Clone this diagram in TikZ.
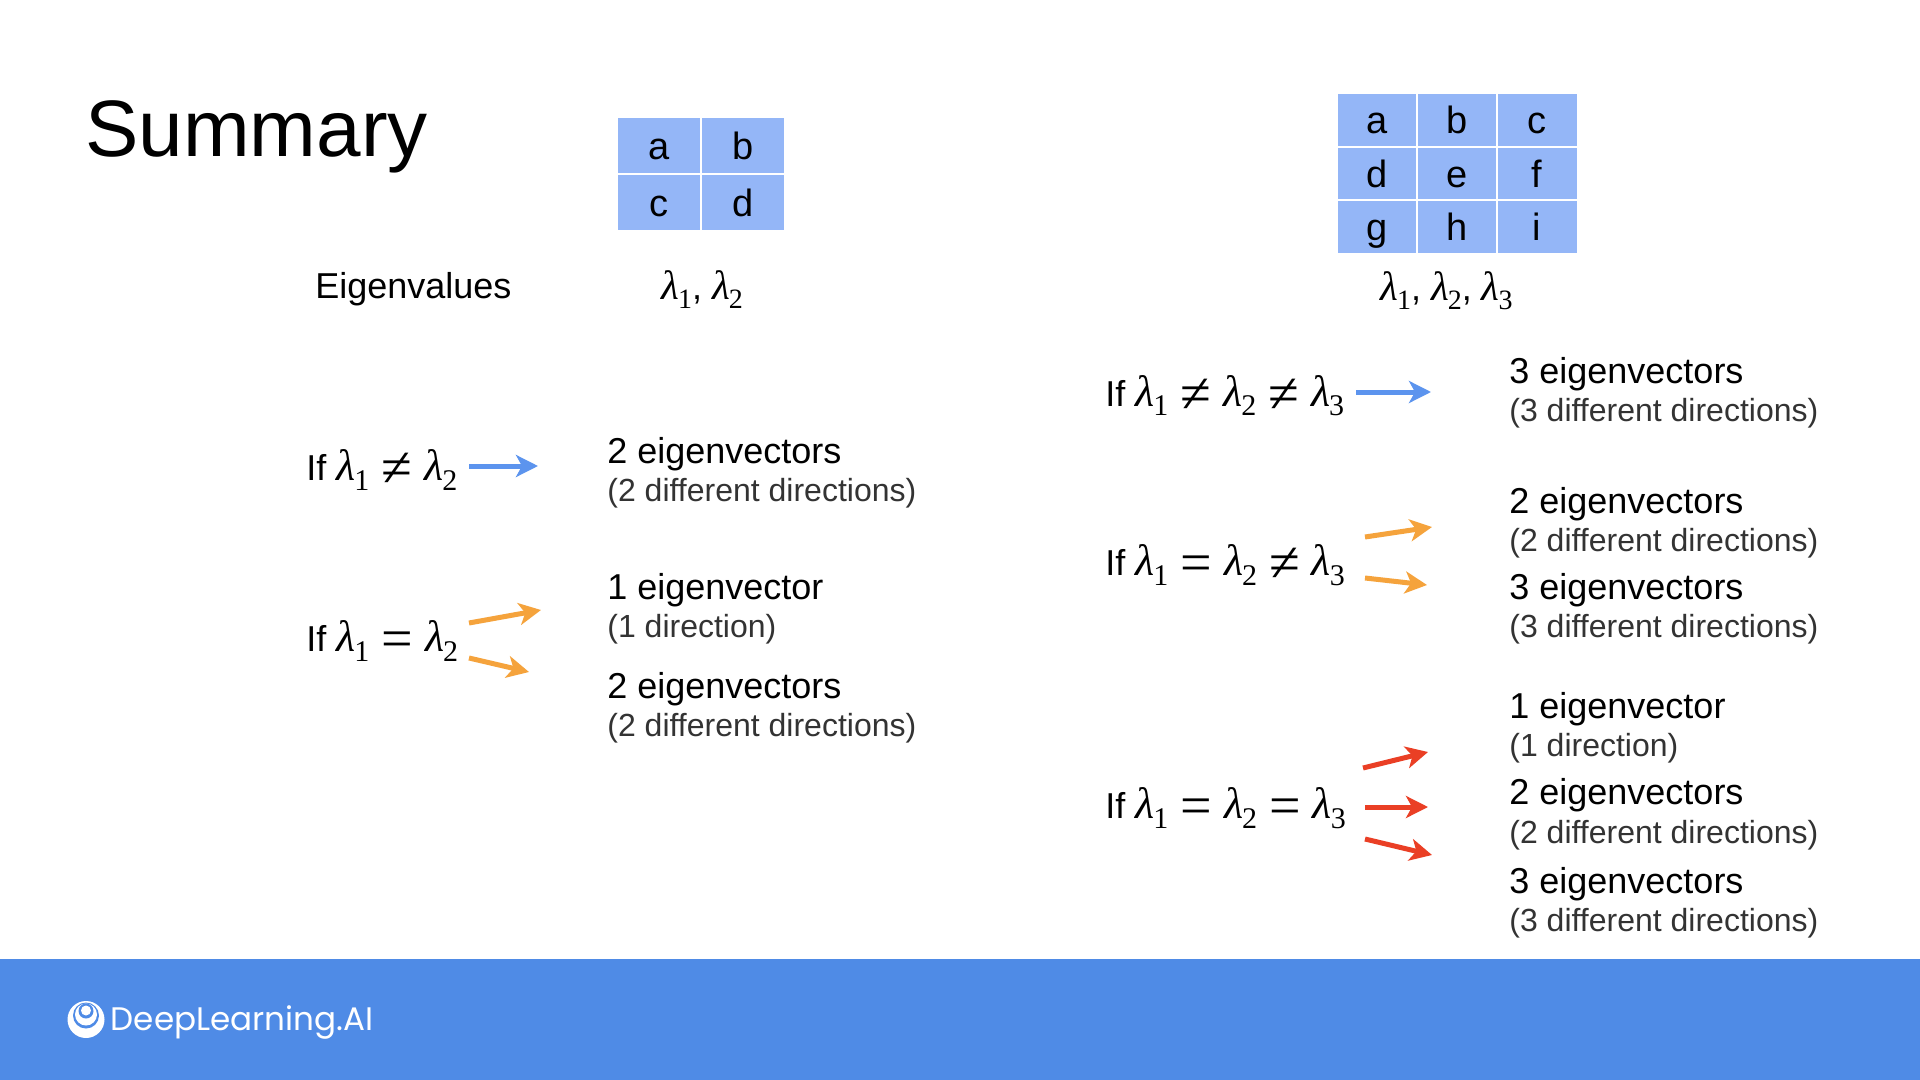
\documentclass[tikz,border=0pt]{standalone}
\usepackage{fontspec}
\setmainfont{Liberation Sans}
\newfontfamily\lamfam{Liberation Serif}
\newfontfamily\logofam{Poppins}
\usetikzlibrary{arrows.meta}
\definecolor{band}{HTML}{4F8BE6}
\definecolor{cell}{HTML}{94B6F7}
\definecolor{arrblue}{HTML}{5C94EE}
\definecolor{arrorange}{HTML}{F5A33C}
\definecolor{arrred}{HTML}{EA3F25}
\definecolor{subtext}{HTML}{333333}
\newcommand{\lam}[1]{{\lamfam\itshape\fontsize{22}{22}\selectfont λ}\kern-0.5pt\raisebox{-5pt}{\lamfam\fontsize{15}{15}\selectfont #1}}
\newcommand{\laml}[1]{{\lamfam\itshape\fontsize{20.5}{20.5}\selectfont λ}\kern-0.5pt\raisebox{-4.5pt}{\lamfam\fontsize{14}{14}\selectfont #1}}
\newcommand{\rel}[1]{\kern6pt\raisebox{-3pt}{\lamfam\fontsize{28}{28}\selectfont #1}\kern6pt}
\tikzset{
  x=0.5pt,y=-0.5pt,
  cellbox/.style={fill=cell,draw=white,line width=1pt,inner sep=0pt,text height=14pt,text depth=0pt,font=\fontsize{19}{19}\selectfont,text=black},
  lab/.style={anchor=base west,inner sep=0pt,font=\fontsize{18}{18}\selectfont,text=black},
  sublab/.style={anchor=base west,inner sep=0pt,font=\fontsize{16}{16}\selectfont,text=subtext},
  arr/.style={line width=2.5pt,-{Stealth[length=11pt,width=11pt,inset=3pt]}},
}
\begin{document}
\begin{tikzpicture}
\useasboundingbox (0,0) rectangle (1920,1080);
\fill[white] (0,0) rectangle (1920,1080);
\fill[band] (0,959) rectangle (1920,1080);
% logo
\fill[white] (86,1019.5) circle (18.5);
\fill[band] (86,1015.5) circle (13);
\fill[white] (86,1014.5) circle (11);
\fill[band] (86,1011) circle (7.5);
\fill[white] (86,1010.5) circle (5);
\node[anchor=base west,inner sep=0pt,text=white,font=\logofam\fontsize{16.3}{16.3}\selectfont] (logo) at (110.5,1030) {DeepLearning.AI};
% title
\node[anchor=base west,inner sep=0pt,font=\fontsize{40}{40}\selectfont] (title) at (85,157) {Summary};
% 2x2
\foreach \n/\t/\cx/\cy in {aa/a/659/146,ab/b/743/146,ac/c/659/203,ad/d/743/203}
  \node[cellbox,minimum width=42pt,minimum height=28.5pt] (\n) at (\cx,\cy) {\t};
% 3x3
\foreach \n/\t/\cx/\cy in {ba/a/1377/120,bb/b/1457/120,bc/c/1537/120,bd/d/1377/174,be/e/1457/174,bf/f/1537/174,bg/g/1377/227,bh/h/1457/227,bi/i/1537/227}
  \node[cellbox,minimum width=40.5pt,minimum height=27pt] (\n) at (\cx,\cy) {\t};
% eigenvalues
\node[lab] (ev) at (315,299) {Eigenvalues};
\node[lab] (l2) at (661,300) {\laml1, \laml2};
\node[lab] (l3) at (1380,301) {\laml1, \laml2, \laml3};
% conditions
\node[lab] (c1) at (306,480) {If \lam1\rel{≠}\lam2};
\node[lab] (c2) at (306,651) {If \lam1\rel{=}\lam2};
\node[lab] (d1) at (1105,406) {If \lam1\rel{≠}\lam2\rel{≠}\lam3};
\node[lab] (d2) at (1105,575) {If \lam1\rel{=}\lam2\rel{≠}\lam3};
\node[lab] (d3) at (1105,818) {If \lam1\rel{=}\lam2\rel{=}\lam3};
% left outcomes
\node[lab] (p1) at (607,463) {2 eigenvectors};
\node[sublab] (p1s) at (607,501) {(2 different directions)};
\node[lab] (p2) at (607,599) {1 eigenvector};
\node[sublab] (p2s) at (607,637) {(1 direction)};
\node[lab] (p3) at (607,698) {2 eigenvectors};
\node[sublab] (p3s) at (607,736) {(2 different directions)};
% right outcomes
\node[lab] (q1) at (1509,383) {3 eigenvectors};
\node[sublab] (q1s) at (1509,421) {(3 different directions)};
\node[lab] (q2) at (1509,513) {2 eigenvectors};
\node[sublab] (q2s) at (1509,551) {(2 different directions)};
\node[lab] (q3) at (1509,599) {3 eigenvectors};
\node[sublab] (q3s) at (1509,637) {(3 different directions)};
\node[lab] (q4) at (1509,718) {1 eigenvector};
\node[sublab] (q4s) at (1509,756) {(1 direction)};
\node[lab] (q5) at (1509,804) {2 eigenvectors};
\node[sublab] (q5s) at (1509,843) {(2 different directions)};
\node[lab] (q6) at (1509,893) {3 eigenvectors};
\node[sublab] (q6s) at (1509,931) {(3 different directions)};
% arrows
\foreach \n/\xa/\ya/\xb/\yb/\c in {
 a1/469/466/538/466/arrblue,
 a2/469/623/541/610/arrorange,
 a3/469/658/529/672/arrorange,
 b1/1356/392/1431/392/arrblue,
 b2/1365/537/1432/527/arrorange,
 b3/1365/578/1427/585/arrorange,
 b4/1363/768/1428/752/arrred,
 b5/1365/807/1428/807/arrred,
 b6/1365/839/1432/855/arrred}{
  \coordinate (\n s) at (\xa,\ya);
  \coordinate (\n e) at (\xb,\yb);
  \draw[arr,draw=\c,fill=\c] (\n s) -- (\n e);
}
\end{tikzpicture}
\end{document}
